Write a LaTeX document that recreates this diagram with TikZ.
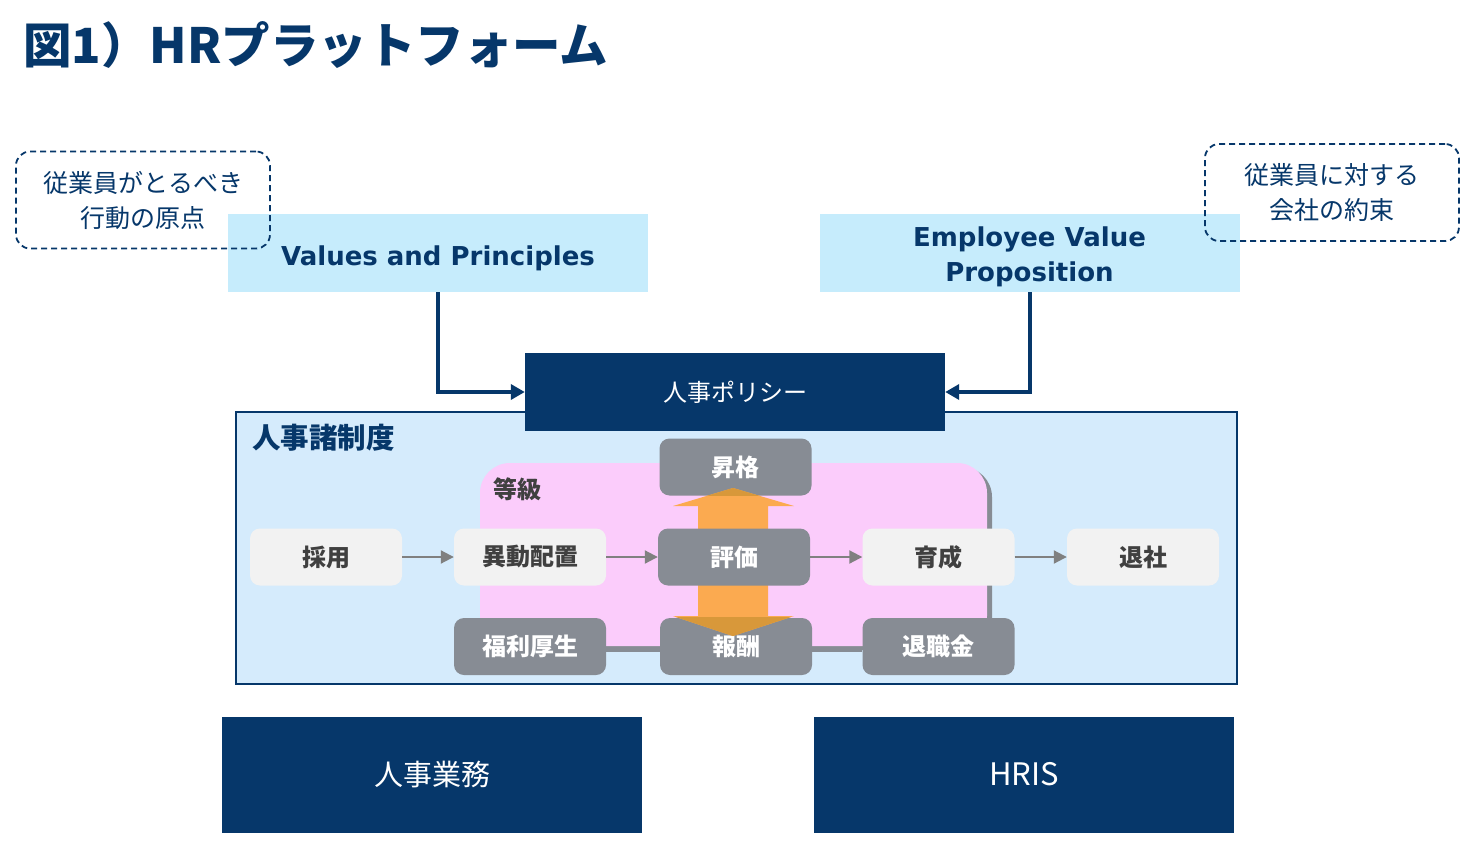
\documentclass[tikz,border=0pt]{standalone}
\usepackage{fontspec}
\setmainfont{Noto Sans CJK JP}
\newfontfamily\en{DejaVu Sans}
\usetikzlibrary{arrows.meta}
\definecolor{navy}{HTML}{06376A}
\definecolor{cyanbox}{HTML}{C6ECFC}
\definecolor{panel}{HTML}{D5EBFC}
\definecolor{pinkbox}{HTML}{FBCCFB}
\definecolor{lightbox}{HTML}{F2F2F2}
\definecolor{graybox}{HTML}{878C94}
\definecolor{darktext}{HTML}{404040}
\definecolor{arrowgray}{HTML}{808080}
\definecolor{orangearrow}{HTML}{FBAA50}
\definecolor{orangedark}{HTML}{D8983A}
\tikzset{
  dashbox/.style={draw=navy, line width=1.8pt, dash pattern=on 6pt off 4pt, rounded corners=14pt,
    minimum width=254pt, minimum height=97pt, inner sep=0pt, align=center, text=navy,
    font=\fontsize{25}{35}\selectfont},
  cyanrect/.style={fill=cyanbox, minimum width=420pt, minimum height=78pt, inner sep=0pt},
  cyantext/.style={inner sep=0pt, align=center, text=navy, font=\en\bfseries\fontsize{26}{35}\selectfont},
  navyrect/.style={fill=navy, minimum width=420pt, inner sep=0pt, text=white},
  lbox/.style={fill=lightbox, rounded corners=10pt, minimum width=152pt, minimum height=57pt,
    inner sep=0pt, text=darktext, font=\bfseries\fontsize{24}{28}\selectfont},
  gbox/.style={fill=graybox, rounded corners=10pt, minimum width=152pt, minimum height=57pt,
    inner sep=0pt, text=white, font=\bfseries\fontsize{24}{28}\selectfont},
  navyarrow/.style={draw=navy, line width=4pt, -{Triangle[length=14pt,width=15pt]}},
  grayarrow/.style={draw=arrowgray, line width=2pt, -{Triangle[length=13pt,width=13pt]}},
  grayline/.style={draw=graybox, line width=4pt},
}
\begin{document}
\begin{tikzpicture}[x=1pt,y=-1pt]
\useasboundingbox (0,0) rectangle (1470,848);
\fill[white] (0,0) rectangle (1470,848);

% title
\node[anchor=west, text=navy, font=\bfseries\fontsize{48.5}{56}\selectfont, inner sep=0pt] (title) at (23,45) {図1）HRプラットフォーム};

% top boxes
\node[cyanrect] (vp) at (438,253) {};
\node[cyantext] (vpt) at ([yshift=-5pt]vp.center) {Values and Principles};
\node[cyanrect] (evp) at (1029.5,253) {};
\node[cyantext] (evpt) at ([yshift=-4pt]evp.center) {Employee Value\\Proposition};
\node[dashbox] (d1) at (143,200) {従業員がとるべき\\行動の原点};
\node[dashbox] (d2) at (1332,192.5) {従業員に対する\\会社の約束};

% panel
\node[draw=navy, line width=2pt, fill=panel, minimum width=1001pt, minimum height=272pt, inner sep=0pt] (panel) at (736.5,548) {};
\node[anchor=west, text=navy, font=\bfseries\fontsize{28.5}{32}\selectfont, inner sep=0pt] (panellabel) at (252,438) {人事諸制度};

% policy box
\node[navyrect, minimum height=78pt, font=\fontsize{24}{28}\selectfont] (pol) at (735,392) {人事ポリシー};
\draw[navyarrow] (vp.south) |- (pol.west);
\draw[navyarrow] (evp.south) |- (pol.east);

% pink grade box with shadow
\fill[graybox, rounded corners=30pt] (485,467) rectangle (992,650);
\fill[pinkbox, rounded corners=30pt] (480,463) rectangle (987,646);
\node[anchor=west, text=darktext, font=\bfseries\fontsize{24}{28}\selectfont, inner sep=0pt] (grade) at (493,489) {等級};

% boxes
\node[lbox] (saiyo) at (326,557) {採用};
\node[lbox] (ido) at (530,557) {異動配置};
\node[lbox] (ikusei) at (938.5,557) {育成};
\node[lbox] (taisha) at (1143,557) {退社};
\node[gbox] (sho) at (735.5,467) {昇格};
\node[gbox] (hou) at (736,646.5) {報酬};
\node[gbox] (fuku) at (530,646.5) {福利厚生};
\node[gbox] (tai) at (938.5,646.5) {退職金};

\draw[grayline] ([yshift=-3pt]fuku.east) -- ([yshift=-3pt]hou.west);
\draw[grayline] ([yshift=-3pt]hou.east) -- ([yshift=-3pt]tai.west);

% orange double arrow
\def\oarrow{(733,488) -- (794,506) -- (768,506) -- (768,616) -- (794,616) -- (733,636) -- (673,616) -- (698,616) -- (698,506) -- (673,506) -- cycle}
\fill[orangearrow] \oarrow;
\begin{scope}
\clip (sho.south west) rectangle (sho.north east);
\fill[orangedark] \oarrow;
\end{scope}
\begin{scope}
\clip (hou.south west) rectangle (hou.north east);
\fill[orangedark] \oarrow;
\end{scope}
\node[gbox] (hyoka) at (734,557) {評価};

\draw[grayarrow] (saiyo) -- (ido);
\draw[grayarrow] (ido) -- (hyoka);
\draw[grayarrow] (hyoka) -- (ikusei);
\draw[grayarrow] (ikusei) -- (taisha);

% bottom boxes
\node[navyrect, minimum height=116pt, font=\fontsize{29}{32}\selectfont] (gyomu) at (432,775) {人事業務};
\node[navyrect, minimum height=116pt, font=\fontsize{31}{34}\selectfont] (hris) at (1024,774.5) {HRIS};
\end{tikzpicture}
\end{document}
